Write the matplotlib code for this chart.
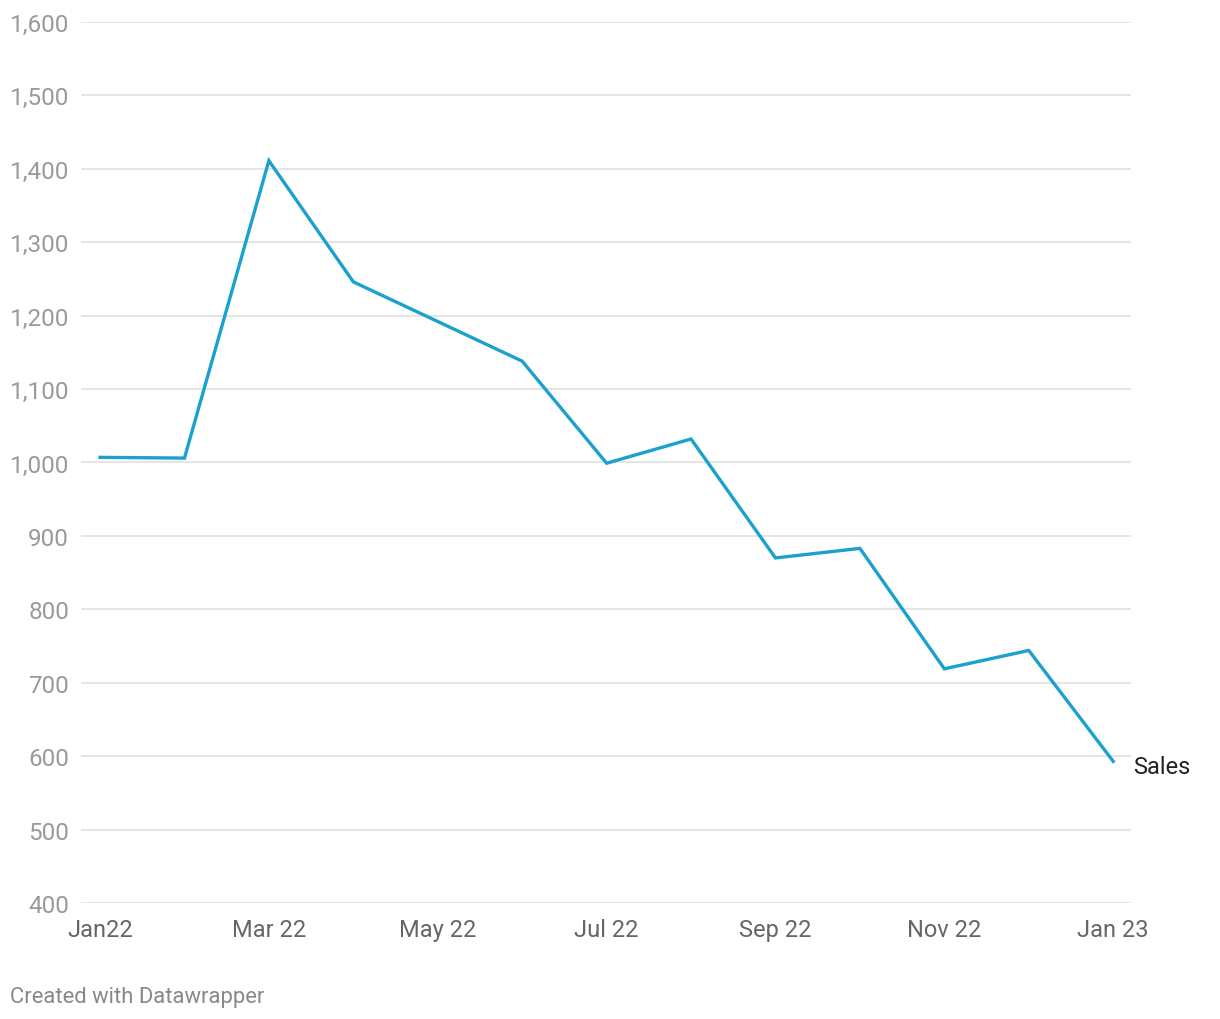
import matplotlib.pyplot as plt
import numpy as np

plt.rcParams['font.family'] = ['Roboto', 'DejaVu Sans']

# Monthly sales, Jan 2022 - Jan 2023
months = ['Jan22', 'Feb 22', 'Mar 22', 'Apr 22', 'May 22', 'Jun 22', 'Jul 22',
          'Aug 22', 'Sep 22', 'Oct 22', 'Nov 22', 'Dec 22', 'Jan 23']
sales = [1007, 1006, 1411, 1246, 1192, 1138, 999, 1032, 870, 883, 719, 744, 593]
y_ticks = [400, 500, 600, 700, 800, 900, 1000, 1100, 1200, 1300, 1400, 1500, 1600]

fig = plt.figure(figsize=(12.2, 10.2), dpi=100)
ax = fig.add_axes([0.0664, 0.1137, 0.8606, 0.8638])

x = np.arange(len(months))
ax.plot(x, sales, color='#1aa1cd', linewidth=2.4, solid_joinstyle='miter', zorder=3)

ax.set_xlim(-0.225, 12.21)
ax.set_ylim(400, 1600)
ax.set_yticks(y_ticks)
ax.set_yticklabels([f'{v:,}' for v in y_ticks])
ax.grid(axis='y', color='#e0e0e0', linewidth=1.2)
ax.set_axisbelow(True)

shown = list(range(0, len(months), 2))
ax.set_xticks(shown)
ax.set_xticklabels([months[i] for i in shown])

for s in ax.spines.values():
    s.set_visible(False)
ax.tick_params(axis='y', length=0, pad=8.5, labelsize=17.5, labelcolor='#9a9a9a')
ax.tick_params(axis='x', length=0, pad=11, labelsize=17, labelcolor='#666666')

# series label at end of line
ax.annotate('Sales', xy=(x[-1], sales[-1]), xytext=(14, -3.5), textcoords='offset points',
            fontsize=17, color='#222222', va='center', ha='left', annotation_clip=False)

fig.text(0.008, 0.0225, 'Created with Datawrapper', fontsize=15.8, color='#888888',
         ha='left', va='center')

fig.savefig('out.png', dpi=100, facecolor='white')
